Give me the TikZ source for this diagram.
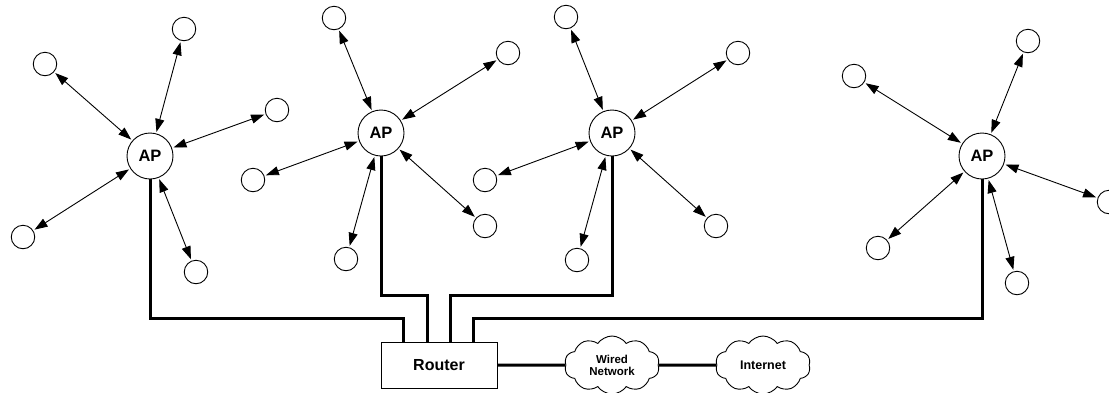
\documentclass[tikz,border=0pt]{standalone}
\usepackage{fontspec}
\setmainfont{Liberation Sans}
\usetikzlibrary{arrows.meta,shapes.symbols}
\tikzset{
  sat/.style={circle,draw,line width=0.9pt,minimum size=23.5pt,inner sep=0pt},
  ap/.style={circle,draw,line width=0.9pt,minimum size=46pt,inner sep=0pt,font=\bfseries\fontsize{16.5}{16.5}\selectfont},
  link/.style={line width=0.9pt,{Triangle[length=13pt,width=9pt]}-{Triangle[length=13pt,width=9pt]},shorten <=1.5pt,shorten >=1.5pt},
  wire/.style={line width=3pt,line join=miter},
  routerbox/.style={rectangle,draw,line width=0.9pt,minimum width=116pt,minimum height=46pt,inner sep=0pt,font=\bfseries\fontsize{16}{16}\selectfont},
  netcloud/.style={cloud,draw,line width=0.9pt,cloud puffs=10,cloud puff arc=110,aspect=1.6,minimum width=95pt,minimum height=58pt,inner sep=0pt,align=center}
}
\begin{document}
\begin{tikzpicture}[x=1pt,y=-1pt]
\useasboundingbox (0,0) rectangle (1109,392);
% access points
\node[ap] (ap1) at (150,156) {AP};
\node[ap] (ap2) at (381,133) {AP};
\node[ap] (ap3) at (612,133) {AP};
\node[ap] (ap4) at (982,156) {AP};
% stations cluster 1
\node[sat] (a1) at (184,29) {};
\node[sat] (a2) at (45,64) {};
\node[sat] (a3) at (23,237) {};
\node[sat] (a4) at (196,272) {};
\node[sat] (a5) at (277,110) {};
% cluster 2
\node[sat] (b1) at (334,18) {};
\node[sat] (b2) at (508,53) {};
\node[sat] (b3) at (253,180) {};
\node[sat] (b4) at (346,259) {};
\node[sat] (b5) at (485,226) {};
% cluster 3
\node[sat] (c1) at (566,17) {};
\node[sat] (c2) at (738,53) {};
\node[sat] (c3) at (485,180) {};
\node[sat] (c4) at (577,260) {};
\node[sat] (c5) at (716,226) {};
% cluster 4
\node[sat] (d1) at (1028,41) {};
\node[sat] (d2) at (854,76) {};
\node[sat] (d3) at (878,248) {};
\node[sat] (d4) at (1017,283) {};
\node[sat] (d5) at (1109,202) {};
% wireless links
\foreach \a/\s in {ap1/a1,ap1/a2,ap1/a3,ap1/a4,ap1/a5,
                   ap2/b1,ap2/b2,ap2/b3,ap2/b4,ap2/b5,
                   ap3/c1,ap3/c2,ap3/c3,ap3/c4,ap3/c5,
                   ap4/d1,ap4/d2,ap4/d3,ap4/d4,ap4/d5}
  \draw[link] (\a) -- (\s);
% router and clouds
\node[routerbox] (router) at (439,365) {Router};
\node[netcloud,font=\bfseries\fontsize{11.5}{12}\selectfont] (wired) at (612,365) {Wired\\Network};
\node[netcloud,font=\bfseries\fontsize{12.5}{13}\selectfont] (internet) at (763,365) {Internet};
% wire corner points
\coordinate (k1) at (403,318);
\coordinate (k2) at (427,295);
\coordinate (k3) at (450,295);
\coordinate (k4) at (473,318);
\draw[wire] (ap1.south) |- (k1) -- (k1 |- router.north);
\draw[wire] (ap2.south) |- (k2) -- (k2 |- router.north);
\draw[wire] (ap3.south) |- (k3) -- (k3 |- router.north);
\draw[wire] (ap4.south) |- (k4) -- (k4 |- router.north);
\draw[wire] (router.east) -- (wired.west);
\draw[wire] (wired.east) -- (internet.west);
\end{tikzpicture}
\end{document}
